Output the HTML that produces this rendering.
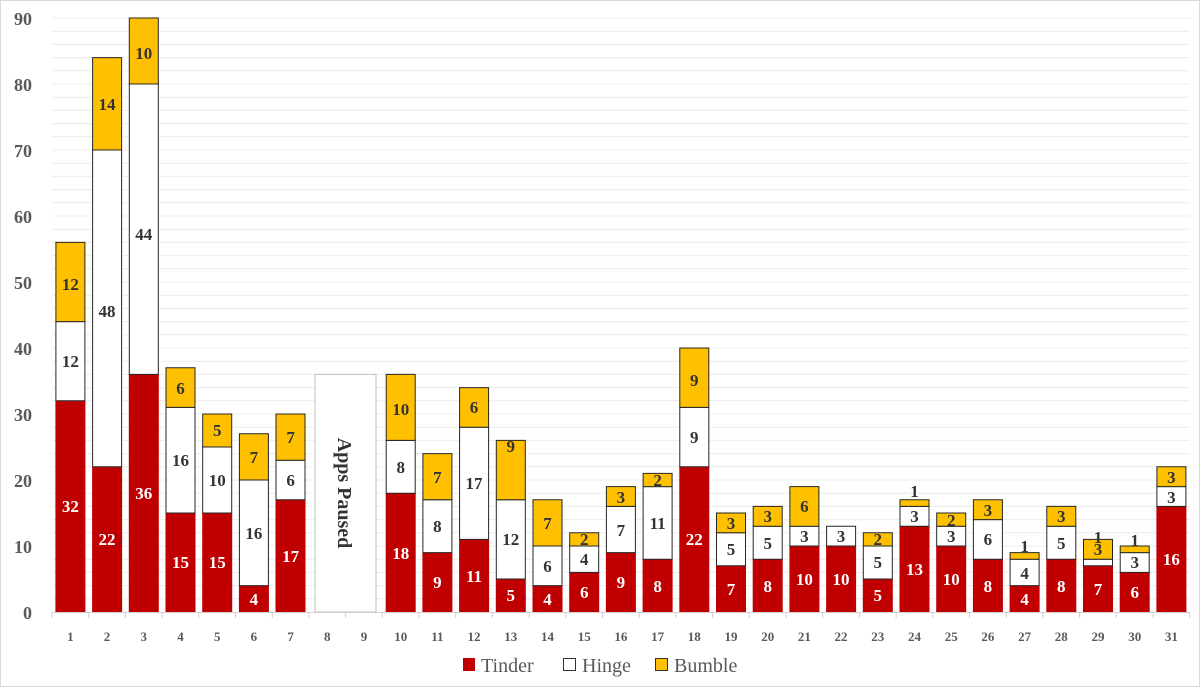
<!DOCTYPE html>
<html><head><meta charset="utf-8"><style>
html,body{margin:0;padding:0;background:#fff;}
svg{display:block;font-family:"Liberation Serif",serif;}
.l{font-weight:bold;font-size:17px;text-anchor:middle;fill:#333;}
.w{fill:#fff;}
.ax{font-weight:bold;font-size:18px;fill:#595959;text-anchor:end;}
.xl{font-weight:bold;font-size:13px;fill:#595959;text-anchor:middle;}
</style></head><body>
<svg width="1200" height="687" viewBox="0 0 1200 687">
<rect x="0.5" y="0.5" width="1199" height="686" fill="#fff" stroke="#d9d9d9"/>
<g stroke="#ececec" stroke-width="1">
<line x1="52" x2="1190" y1="598.8" y2="598.8"/><line x1="52" x2="1190" y1="585.6" y2="585.6"/><line x1="52" x2="1190" y1="572.4" y2="572.4"/><line x1="52" x2="1190" y1="559.2" y2="559.2"/><line x1="52" x2="1190" y1="546" y2="546"/><line x1="52" x2="1190" y1="532.8" y2="532.8"/><line x1="52" x2="1190" y1="519.6" y2="519.6"/><line x1="52" x2="1190" y1="506.4" y2="506.4"/><line x1="52" x2="1190" y1="493.2" y2="493.2"/><line x1="52" x2="1190" y1="480" y2="480"/><line x1="52" x2="1190" y1="466.8" y2="466.8"/><line x1="52" x2="1190" y1="453.6" y2="453.6"/><line x1="52" x2="1190" y1="440.4" y2="440.4"/><line x1="52" x2="1190" y1="427.2" y2="427.2"/><line x1="52" x2="1190" y1="414" y2="414"/><line x1="52" x2="1190" y1="400.8" y2="400.8"/><line x1="52" x2="1190" y1="387.6" y2="387.6"/><line x1="52" x2="1190" y1="374.4" y2="374.4"/><line x1="52" x2="1190" y1="361.2" y2="361.2"/><line x1="52" x2="1190" y1="348" y2="348"/><line x1="52" x2="1190" y1="334.8" y2="334.8"/><line x1="52" x2="1190" y1="321.6" y2="321.6"/><line x1="52" x2="1190" y1="308.4" y2="308.4"/><line x1="52" x2="1190" y1="295.2" y2="295.2"/><line x1="52" x2="1190" y1="282" y2="282"/><line x1="52" x2="1190" y1="268.8" y2="268.8"/><line x1="52" x2="1190" y1="255.6" y2="255.6"/><line x1="52" x2="1190" y1="242.4" y2="242.4"/><line x1="52" x2="1190" y1="229.2" y2="229.2"/><line x1="52" x2="1190" y1="216" y2="216"/><line x1="52" x2="1190" y1="202.8" y2="202.8"/><line x1="52" x2="1190" y1="189.6" y2="189.6"/><line x1="52" x2="1190" y1="176.4" y2="176.4"/><line x1="52" x2="1190" y1="163.2" y2="163.2"/><line x1="52" x2="1190" y1="150" y2="150"/><line x1="52" x2="1190" y1="136.8" y2="136.8"/><line x1="52" x2="1190" y1="123.6" y2="123.6"/><line x1="52" x2="1190" y1="110.4" y2="110.4"/><line x1="52" x2="1190" y1="97.2" y2="97.2"/><line x1="52" x2="1190" y1="84" y2="84"/><line x1="52" x2="1190" y1="70.8" y2="70.8"/><line x1="52" x2="1190" y1="57.6" y2="57.6"/><line x1="52" x2="1190" y1="44.4" y2="44.4"/><line x1="52" x2="1190" y1="31.2" y2="31.2"/><line x1="52" x2="1190" y1="18" y2="18"/>
</g>
<g class="ax">
<text x="32" y="619">0</text><text x="32" y="553">10</text><text x="32" y="487">20</text><text x="32" y="421">30</text><text x="32" y="355">40</text><text x="32" y="289">50</text><text x="32" y="223">60</text><text x="32" y="157">70</text><text x="32" y="91">80</text><text x="32" y="25">90</text>
</g>
<!-- bars in data units -->
<g transform="translate(0,612) scale(1,-6.6)" stroke="#262626" stroke-width="1">
<g fill="#c00000" stroke="#c00000">
<rect x="55.9" y="0" width="29" height="32" vector-effect="non-scaling-stroke"/>
<rect x="92.6" y="0" width="29" height="22" vector-effect="non-scaling-stroke"/>
<rect x="129.3" y="0" width="29" height="36" vector-effect="non-scaling-stroke"/>
<rect x="166" y="0" width="29" height="15" vector-effect="non-scaling-stroke"/>
<rect x="202.7" y="0" width="29" height="15" vector-effect="non-scaling-stroke"/>
<rect x="239.4" y="0" width="29" height="4" vector-effect="non-scaling-stroke"/>
<rect x="276" y="0" width="29" height="17" vector-effect="non-scaling-stroke"/>
<rect x="386.2" y="0" width="29" height="18" vector-effect="non-scaling-stroke"/>
<rect x="422.9" y="0" width="29" height="9" vector-effect="non-scaling-stroke"/>
<rect x="459.6" y="0" width="29" height="11" vector-effect="non-scaling-stroke"/>
<rect x="496.3" y="0" width="29" height="5" vector-effect="non-scaling-stroke"/>
<rect x="533" y="0" width="29" height="4" vector-effect="non-scaling-stroke"/>
<rect x="569.7" y="0" width="29" height="6" vector-effect="non-scaling-stroke"/>
<rect x="606.4" y="0" width="29" height="9" vector-effect="non-scaling-stroke"/>
<rect x="643.1" y="0" width="29" height="8" vector-effect="non-scaling-stroke"/>
<rect x="679.8" y="0" width="29" height="22" vector-effect="non-scaling-stroke"/>
<rect x="716.5" y="0" width="29" height="7" vector-effect="non-scaling-stroke"/>
<rect x="753.2" y="0" width="29" height="8" vector-effect="non-scaling-stroke"/>
<rect x="789.9" y="0" width="29" height="10" vector-effect="non-scaling-stroke"/>
<rect x="826.6" y="0" width="29" height="10" vector-effect="non-scaling-stroke"/>
<rect x="863.3" y="0" width="29" height="5" vector-effect="non-scaling-stroke"/>
<rect x="900" y="0" width="29" height="13" vector-effect="non-scaling-stroke"/>
<rect x="936.7" y="0" width="29" height="10" vector-effect="non-scaling-stroke"/>
<rect x="973.4" y="0" width="29" height="8" vector-effect="non-scaling-stroke"/>
<rect x="1010.1" y="0" width="29" height="4" vector-effect="non-scaling-stroke"/>
<rect x="1046.8" y="0" width="29" height="8" vector-effect="non-scaling-stroke"/>
<rect x="1083.5" y="0" width="29" height="7" vector-effect="non-scaling-stroke"/>
<rect x="1120.2" y="0" width="29" height="6" vector-effect="non-scaling-stroke"/>
<rect x="1156.9" y="0" width="29" height="16" vector-effect="non-scaling-stroke"/>
</g>
<g fill="#fff">
<rect x="55.9" y="32" width="29" height="12" vector-effect="non-scaling-stroke"/>
<rect x="92.6" y="22" width="29" height="48" vector-effect="non-scaling-stroke"/>
<rect x="129.3" y="36" width="29" height="44" vector-effect="non-scaling-stroke"/>
<rect x="166" y="15" width="29" height="16" vector-effect="non-scaling-stroke"/>
<rect x="202.7" y="15" width="29" height="10" vector-effect="non-scaling-stroke"/>
<rect x="239.4" y="4" width="29" height="16" vector-effect="non-scaling-stroke"/>
<rect x="276" y="17" width="29" height="6" vector-effect="non-scaling-stroke"/>
<rect x="386.2" y="18" width="29" height="8" vector-effect="non-scaling-stroke"/>
<rect x="422.9" y="9" width="29" height="8" vector-effect="non-scaling-stroke"/>
<rect x="459.6" y="11" width="29" height="17" vector-effect="non-scaling-stroke"/>
<rect x="496.3" y="5" width="29" height="12" vector-effect="non-scaling-stroke"/>
<rect x="533" y="4" width="29" height="6" vector-effect="non-scaling-stroke"/>
<rect x="569.7" y="6" width="29" height="4" vector-effect="non-scaling-stroke"/>
<rect x="606.4" y="9" width="29" height="7" vector-effect="non-scaling-stroke"/>
<rect x="643.1" y="8" width="29" height="11" vector-effect="non-scaling-stroke"/>
<rect x="679.8" y="22" width="29" height="9" vector-effect="non-scaling-stroke"/>
<rect x="716.5" y="7" width="29" height="5" vector-effect="non-scaling-stroke"/>
<rect x="753.2" y="8" width="29" height="5" vector-effect="non-scaling-stroke"/>
<rect x="789.9" y="10" width="29" height="3" vector-effect="non-scaling-stroke"/>
<rect x="826.6" y="10" width="29" height="3" vector-effect="non-scaling-stroke"/>
<rect x="863.3" y="5" width="29" height="5" vector-effect="non-scaling-stroke"/>
<rect x="900" y="13" width="29" height="3" vector-effect="non-scaling-stroke"/>
<rect x="936.7" y="10" width="29" height="3" vector-effect="non-scaling-stroke"/>
<rect x="973.4" y="8" width="29" height="6" vector-effect="non-scaling-stroke"/>
<rect x="1010.1" y="4" width="29" height="4" vector-effect="non-scaling-stroke"/>
<rect x="1046.8" y="8" width="29" height="5" vector-effect="non-scaling-stroke"/>
<rect x="1083.5" y="7" width="29" height="1" vector-effect="non-scaling-stroke"/>
<rect x="1120.2" y="6" width="29" height="3" vector-effect="non-scaling-stroke"/>
<rect x="1156.9" y="16" width="29" height="3" vector-effect="non-scaling-stroke"/>
</g>
<g fill="#ffc000">
<rect x="55.9" y="44" width="29" height="12" vector-effect="non-scaling-stroke"/>
<rect x="92.6" y="70" width="29" height="14" vector-effect="non-scaling-stroke"/>
<rect x="129.3" y="80" width="29" height="10" vector-effect="non-scaling-stroke"/>
<rect x="166" y="31" width="29" height="6" vector-effect="non-scaling-stroke"/>
<rect x="202.7" y="25" width="29" height="5" vector-effect="non-scaling-stroke"/>
<rect x="239.4" y="20" width="29" height="7" vector-effect="non-scaling-stroke"/>
<rect x="276" y="23" width="29" height="7" vector-effect="non-scaling-stroke"/>
<rect x="386.2" y="26" width="29" height="10" vector-effect="non-scaling-stroke"/>
<rect x="422.9" y="17" width="29" height="7" vector-effect="non-scaling-stroke"/>
<rect x="459.6" y="28" width="29" height="6" vector-effect="non-scaling-stroke"/>
<rect x="496.3" y="17" width="29" height="9" vector-effect="non-scaling-stroke"/>
<rect x="533" y="10" width="29" height="7" vector-effect="non-scaling-stroke"/>
<rect x="569.7" y="10" width="29" height="2" vector-effect="non-scaling-stroke"/>
<rect x="606.4" y="16" width="29" height="3" vector-effect="non-scaling-stroke"/>
<rect x="643.1" y="19" width="29" height="2" vector-effect="non-scaling-stroke"/>
<rect x="679.8" y="31" width="29" height="9" vector-effect="non-scaling-stroke"/>
<rect x="716.5" y="12" width="29" height="3" vector-effect="non-scaling-stroke"/>
<rect x="753.2" y="13" width="29" height="3" vector-effect="non-scaling-stroke"/>
<rect x="789.9" y="13" width="29" height="6" vector-effect="non-scaling-stroke"/>
<rect x="863.3" y="10" width="29" height="2" vector-effect="non-scaling-stroke"/>
<rect x="900" y="16" width="29" height="1" vector-effect="non-scaling-stroke"/>
<rect x="936.7" y="13" width="29" height="2" vector-effect="non-scaling-stroke"/>
<rect x="973.4" y="14" width="29" height="3" vector-effect="non-scaling-stroke"/>
<rect x="1010.1" y="8" width="29" height="1" vector-effect="non-scaling-stroke"/>
<rect x="1046.8" y="13" width="29" height="3" vector-effect="non-scaling-stroke"/>
<rect x="1083.5" y="8" width="29" height="3" vector-effect="non-scaling-stroke"/>
<rect x="1120.2" y="9" width="29" height="1" vector-effect="non-scaling-stroke"/>
<rect x="1156.9" y="19" width="29" height="3" vector-effect="non-scaling-stroke"/>
</g>
</g>
<!-- apps paused -->
<rect x="315" y="374.4" width="61" height="237.6" fill="#fff" stroke="#bfbfbf"/>
<text transform="translate(338,493) rotate(90)" text-anchor="middle" font-weight="bold" font-size="20" fill="#333">Apps Paused</text>
<!-- axis -->
<line x1="52" x2="1190" y1="612.5" y2="612.5" stroke="#d0d0d0"/>
<g stroke="#d0d0d0">
<line x1="52" x2="52" y1="612" y2="618"/><line x1="88.7" x2="88.7" y1="612" y2="618"/><line x1="125.4" x2="125.4" y1="612" y2="618"/><line x1="162.1" x2="162.1" y1="612" y2="618"/><line x1="198.8" x2="198.8" y1="612" y2="618"/><line x1="235.5" x2="235.5" y1="612" y2="618"/><line x1="272.2" x2="272.2" y1="612" y2="618"/><line x1="308.9" x2="308.9" y1="612" y2="618"/><line x1="345.6" x2="345.6" y1="612" y2="618"/><line x1="382.3" x2="382.3" y1="612" y2="618"/><line x1="419" x2="419" y1="612" y2="618"/><line x1="455.7" x2="455.7" y1="612" y2="618"/><line x1="492.4" x2="492.4" y1="612" y2="618"/><line x1="529.1" x2="529.1" y1="612" y2="618"/><line x1="565.8" x2="565.8" y1="612" y2="618"/><line x1="602.5" x2="602.5" y1="612" y2="618"/><line x1="639.2" x2="639.2" y1="612" y2="618"/><line x1="675.9" x2="675.9" y1="612" y2="618"/><line x1="712.6" x2="712.6" y1="612" y2="618"/><line x1="749.3" x2="749.3" y1="612" y2="618"/><line x1="786" x2="786" y1="612" y2="618"/><line x1="822.7" x2="822.7" y1="612" y2="618"/><line x1="859.4" x2="859.4" y1="612" y2="618"/><line x1="896.1" x2="896.1" y1="612" y2="618"/><line x1="932.8" x2="932.8" y1="612" y2="618"/><line x1="969.5" x2="969.5" y1="612" y2="618"/><line x1="1006.2" x2="1006.2" y1="612" y2="618"/><line x1="1042.9" x2="1042.9" y1="612" y2="618"/><line x1="1079.6" x2="1079.6" y1="612" y2="618"/><line x1="1116.3" x2="1116.3" y1="612" y2="618"/><line x1="1153" x2="1153" y1="612" y2="618"/><line x1="1189.7" x2="1189.7" y1="612" y2="618"/>
</g>
<g class="xl">
<text x="70.4" y="641">1</text><text x="107" y="641">2</text><text x="143.8" y="641">3</text><text x="180.5" y="641">4</text><text x="217.2" y="641">5</text><text x="253.9" y="641">6</text><text x="290.6" y="641">7</text><text x="327.3" y="641">8</text><text x="364" y="641">9</text><text x="400.7" y="641">10</text><text x="437.4" y="641">11</text><text x="474" y="641">12</text><text x="510.8" y="641">13</text><text x="547.5" y="641">14</text><text x="584.2" y="641">15</text><text x="620.9" y="641">16</text><text x="657.6" y="641">17</text><text x="694.3" y="641">18</text><text x="731" y="641">19</text><text x="767.7" y="641">20</text><text x="804.4" y="641">21</text><text x="841" y="641">22</text><text x="877.8" y="641">23</text><text x="914.5" y="641">24</text><text x="951.2" y="641">25</text><text x="987.9" y="641">26</text><text x="1024.6" y="641">27</text><text x="1061.3" y="641">28</text><text x="1098" y="641">29</text><text x="1134.7" y="641">30</text><text x="1171.4" y="641">31</text>
</g>
<!-- labels -->
<g class="l w">
<text x="70.4" y="512">32</text><text x="107" y="545">22</text><text x="143.8" y="499">36</text><text x="180.5" y="568">15</text><text x="217.2" y="568">15</text><text x="253.9" y="605">4</text><text x="290.6" y="562">17</text><text x="400.7" y="559">18</text><text x="437.4" y="588">9</text><text x="474" y="582">11</text><text x="510.8" y="601">5</text><text x="547.5" y="605">4</text><text x="584.2" y="598">6</text><text x="620.9" y="588">9</text><text x="657.6" y="592">8</text><text x="694.3" y="545">22</text><text x="731" y="595">7</text><text x="767.7" y="592">8</text><text x="804.4" y="585">10</text><text x="841" y="585">10</text><text x="877.8" y="601">5</text><text x="914.5" y="575">13</text><text x="951.2" y="585">10</text><text x="987.9" y="592">8</text><text x="1024.6" y="605">4</text><text x="1061.3" y="592">8</text><text x="1098" y="595">7</text><text x="1134.7" y="598">6</text><text x="1171.4" y="565">16</text>
</g>
<g class="l">
<text x="70.4" y="367">12</text><text x="107" y="317">48</text><text x="143.8" y="240">44</text><text x="180.5" y="466">16</text><text x="217.2" y="486">10</text><text x="253.9" y="539">16</text><text x="290.6" y="486">6</text><text x="400.7" y="473">8</text><text x="437.4" y="532">8</text><text x="474" y="489">17</text><text x="510.8" y="545">12</text><text x="547.5" y="572">6</text><text x="584.2" y="565">4</text><text x="620.9" y="536">7</text><text x="657.6" y="529">11</text><text x="694.3" y="443">9</text><text x="731" y="555">5</text><text x="767.7" y="549">5</text><text x="804.4" y="542">3</text><text x="841" y="542">3</text><text x="877.8" y="568">5</text><text x="914.5" y="522">3</text><text x="951.2" y="542">3</text><text x="987.9" y="545">6</text><text x="1024.6" y="579">4</text><text x="1061.3" y="549">5</text><text x="1098" y="543">1</text><text x="1134.7" y="568">3</text><text x="1171.4" y="503">3</text>
<text x="70.4" y="290">12</text><text x="107" y="110">14</text><text x="143.8" y="59">10</text><text x="180.5" y="394">6</text><text x="217.2" y="436">5</text><text x="253.9" y="463">7</text><text x="290.6" y="443">7</text><text x="400.7" y="415">10</text><text x="437.4" y="483">7</text><text x="474" y="413">6</text><text x="510.8" y="452">9</text><text x="547.5" y="529">7</text><text x="584.2" y="545">2</text><text x="620.9" y="503">3</text><text x="657.6" y="486">2</text><text x="694.3" y="386">9</text><text x="731" y="529">3</text><text x="767.7" y="522">3</text><text x="804.4" y="512">6</text><text x="877.8" y="545">2</text><text x="914.5" y="497">1</text><text x="951.2" y="526">2</text><text x="987.9" y="516">3</text><text x="1024.6" y="552">1</text><text x="1061.3" y="522">3</text><text x="1098" y="555">3</text><text x="1134.7" y="546">1</text><text x="1171.4" y="483">3</text>
</g>
<!-- legend -->
<rect x="463" y="658" width="12" height="13" fill="#c00000"/>
<text x="481" y="672" font-size="20" fill="#595959">Tinder</text>
<rect x="563.5" y="658.5" width="12" height="12" fill="#fff" stroke="#333"/>
<text x="582" y="672" font-size="20" fill="#595959">Hinge</text>
<rect x="655.5" y="658.5" width="12" height="12" fill="#ffc000" stroke="#333"/>
<text x="674" y="672" font-size="20" fill="#595959">Bumble</text>
</svg>
</body></html>
